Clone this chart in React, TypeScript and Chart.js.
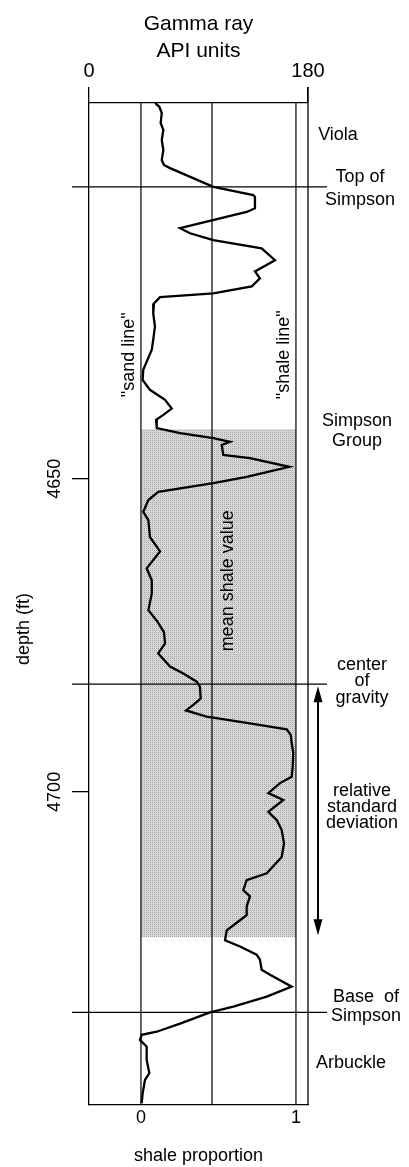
import { useEffect, useRef } from "react";
import { Chart, registerables } from "chart.js";

Chart.register(...registerables);

// ---- data ----
const depthFt = [4590.0, 4590.6, 4591.6, 4593.2, 4594.3, 4595.9, 4597.5, 4599.1, 4599.9, 4600.4, 4603.4, 4604.7, 4605.0, 4606.8, 4607.4, 4610.0, 4610.8, 4611.9, 4613.2, 4615.1, 4616.9, 4618.0, 4619.3, 4620.4, 4621.0, 4622.0, 4623.6, 4625.7, 4627.8, 4629.4, 4632.6, 4634.2, 4635.8, 4637.4, 4638.8, 4639.8, 4640.6, 4641.9, 4642.7, 4643.5, 4644.1, 4644.6, 4646.2, 4646.7, 4648.1, 4649.7, 4650.7, 4652.1, 4653.4, 4655.3, 4656.6, 4659.3, 4661.6, 4664.3, 4666.2, 4668.3, 4671.0, 4672.7, 4674.5, 4676.3, 4677.9, 4680.0, 4681.1, 4682.4, 4683.2, 4685.1, 4686.1, 4687.0, 4688.0, 4689.0, 4690.0, 4690.9, 4692.2, 4693.8, 4696.0, 4697.6, 4698.6, 4700.2, 4701.3, 4703.2, 4704.5, 4706.1, 4708.2, 4710.4, 4713.0, 4714.1, 4715.7, 4716.7, 4718.3, 4719.7, 4720.5, 4722.1, 4723.7, 4724.7, 4726.0, 4726.8, 4728.4, 4729.2, 4731.1, 4732.7, 4734.3, 4735.2, 4737.0, 4738.3, 4738.8, 4739.6, 4740.7, 4742.8, 4744.9, 4746.0, 4748.1, 4749.7];
const gammaAPI = [54.2, 57.8, 59.8, 58.9, 61.1, 59.8, 61.1, 59.8, 61.6, 66.6, 102.2, 135.0, 136.4, 136.4, 129.6, 74.8, 83.0, 102.2, 141.9, 152.9, 136.4, 140.5, 133.7, 102.2, 58.4, 53.4, 52.8, 54.2, 52.8, 51.6, 44.6, 44.1, 50.1, 62.5, 68.0, 61.1, 55.1, 55.7, 74.8, 102.2, 115.9, 109.1, 110.4, 132.3, 164.6, 129.6, 102.2, 57.0, 48.8, 44.6, 48.8, 50.1, 58.4, 47.4, 51.6, 51.6, 48.8, 55.9, 61.6, 62.5, 56.9, 66.6, 77.5, 88.5, 91.2, 91.8, 85.7, 79.7, 96.7, 129.6, 162.5, 165.8, 166.6, 167.9, 167.4, 166.6, 157.0, 147.4, 159.7, 147.4, 154.3, 158.4, 160.3, 158.4, 146.1, 129.6, 126.8, 132.3, 129.6, 129.6, 124.1, 113.2, 111.8, 124.1, 137.8, 140.5, 141.9, 148.8, 166.6, 146.1, 118.6, 99.5, 74.8, 55.7, 43.3, 41.9, 47.4, 47.4, 49.6, 46.0, 44.1, 43.3];

const depthMin = 4590;
const depthMax = 4750;
const depthTicks = [4650, 4700];
const gammaMin = 0;
const gammaMax = 180;
const gammaTicks = [0, 180];
const proportionTicks = [0, 1];

const sandLineAPI = 42.7;
const shaleLineAPI = 170.1;
const meanShaleAPI = 101.1;

const topOfSimpsonFt = 4603.4;
const centerOfGravityFt = 4682.8;
const baseOfSimpsonFt = 4735.2;
const shadeTopFt = 4642.1;
const shadeBottomFt = 4723.2;

const propMin = (gammaMin - sandLineAPI) / (shaleLineAPI - sandLineAPI);
const propMax = (gammaMax - sandLineAPI) / (shaleLineAPI - sandLineAPI);

const FAMILY = '"Liberation Sans", Arial, Helvetica, sans-serif';

function makePattern(): CanvasPattern | string {
  const c = document.createElement("canvas");
  c.width = 2;
  c.height = 2;
  const g = c.getContext("2d");
  if (!g) return "#cfcfcf";
  g.fillStyle = "#e2e2e2";
  g.fillRect(0, 0, 2, 2);
  g.fillStyle = "#a0a0a0";
  g.fillRect(0, 0, 1, 1);
  g.fillStyle = "#c8c8c8";
  g.fillRect(1, 1, 1, 1);
  const p = g.createPattern(c, "repeat");
  return p || "#cfcfcf";
}

export default function App() {
  const ref = useRef<HTMLCanvasElement>(null);

  useEffect(() => {
    if (!ref.current) return;
    const pattern = makePattern();

    const text = (ctx: CanvasRenderingContext2D, s: string, x: number, y: number, size = 18, rot = 0) => {
      ctx.save();
      ctx.translate(x, y);
      if (rot) ctx.rotate(rot);
      ctx.font = `${size}px ${FAMILY}`;
      ctx.fillStyle = "#000";
      ctx.textAlign = "center";
      ctx.textBaseline = "middle";
      ctx.fillText(s, 0, 0);
      ctx.restore();
    };

    const overlay = {
      id: "overlay",
      beforeDatasetsDraw(chart: any) {
        const { ctx, chartArea } = chart;
        const xs = chart.scales.x;
        const ys = chart.scales.y;
        ctx.save();
        const x0 = xs.getPixelForValue(sandLineAPI);
        const x1 = xs.getPixelForValue(shaleLineAPI);
        const y0 = ys.getPixelForValue(shadeTopFt);
        const y1 = ys.getPixelForValue(shadeBottomFt);
        ctx.fillStyle = pattern;
        ctx.fillRect(x0, y0, x1 - x0, y1 - y0);
        ctx.strokeStyle = "#000";
        ctx.lineWidth = 1.3;
        ctx.beginPath();
        ctx.moveTo(chartArea.right, chartArea.top - 16);
        ctx.lineTo(chartArea.right, chartArea.bottom);
        ctx.stroke();
        ctx.restore();
      },
      afterDraw(chart: any) {
        const { ctx, chartArea } = chart;
        const xs = chart.scales.x;
        const ys = chart.scales.y;
        ctx.save();
        ctx.strokeStyle = "#000";
        ctx.lineWidth = 1.3;
        // formation boundaries
        [topOfSimpsonFt, centerOfGravityFt, baseOfSimpsonFt].forEach((d) => {
          const py = ys.getPixelForValue(d);
          ctx.beginPath();
          ctx.moveTo(chartArea.left - 17, py);
          ctx.lineTo(chartArea.right + 19, py);
          ctx.stroke();
        });
        // double arrow (relative standard deviation)
        const ax = chartArea.right + 10;
        const ay0 = ys.getPixelForValue(centerOfGravityFt) + 2;
        const ay1 = ys.getPixelForValue(shadeBottomFt) - 2;
        ctx.lineWidth = 2;
        ctx.beginPath();
        ctx.moveTo(ax, ay0 + 10);
        ctx.lineTo(ax, ay1 - 10);
        ctx.stroke();
        ctx.fillStyle = "#000";
        ctx.beginPath();
        ctx.moveTo(ax, ay0);
        ctx.lineTo(ax - 4.5, ay0 + 16);
        ctx.lineTo(ax + 4.5, ay0 + 16);
        ctx.closePath();
        ctx.fill();
        ctx.beginPath();
        ctx.moveTo(ax, ay1);
        ctx.lineTo(ax - 4.5, ay1 - 16);
        ctx.lineTo(ax + 4.5, ay1 - 16);
        ctx.closePath();
        ctx.fill();
        ctx.restore();

        const R = -Math.PI / 2;
        // depth axis title
        text(ctx, "depth (ft)", 24, ys.getPixelForValue(4674), 18, R);
        // rotated in-plot labels
        text(ctx, "\"sand line\"", xs.getPixelForValue(sandLineAPI) - 12, ys.getPixelForValue(4630.2), 18, R);
        text(ctx, "\"shale line\"", xs.getPixelForValue(shaleLineAPI) - 12, ys.getPixelForValue(4630.2), 18, R);
        text(ctx, "mean shale value", xs.getPixelForValue(meanShaleAPI) + 16, ys.getPixelForValue(4666.3), 18, R);

        // right-hand labels
        const r = chartArea.right;
        text(ctx, "Viola", r + 30, 135);
        text(ctx, "Top of", r + 52, 177);
        text(ctx, "Simpson", r + 52, 200);
        text(ctx, "Simpson", r + 49, 421);
        text(ctx, "Group", r + 49, 441);
        text(ctx, "center", r + 54, 665);
        text(ctx, "of", r + 54, 681);
        text(ctx, "gravity", r + 54, 698);
        text(ctx, "relative", r + 54, 791);
        text(ctx, "standard", r + 54, 807);
        text(ctx, "deviation", r + 54, 823);
        text(ctx, "Base  of", r + 58, 997);
        text(ctx, "Simpson", r + 58, 1016);
        text(ctx, "Arbuckle", r + 43, 1063);
      },
    };

    const curve = depthFt.map((d, i) => ({ x: gammaAPI[i], y: d }));
    const vline = (v: number) => [
      { x: v, y: depthMin },
      { x: v, y: depthMax },
    ];

    const chart = new Chart(ref.current, {
      type: "scatter",
      data: {
        datasets: [
          { data: curve, showLine: true, borderColor: "#000", borderWidth: 2.3, pointRadius: 0, tension: 0, xAxisID: "x", yAxisID: "y" },
          { data: vline(sandLineAPI), showLine: true, borderColor: "#000", borderWidth: 1.2, pointRadius: 0, xAxisID: "x", yAxisID: "y" },
          { data: vline(meanShaleAPI), showLine: true, borderColor: "#000", borderWidth: 1.2, pointRadius: 0, xAxisID: "x", yAxisID: "y" },
          { data: vline(shaleLineAPI), showLine: true, borderColor: "#000", borderWidth: 1.2, pointRadius: 0, xAxisID: "x", yAxisID: "y" },
        ],
      },
      options: {
        responsive: false,
        animation: false,
        devicePixelRatio: 1,
        layout: { padding: { left: 0, right: 101, top: 0, bottom: 0 } },
        plugins: { legend: { display: false }, tooltip: { enabled: false } },
        scales: {
          x: {
            type: "linear",
            position: "top",
            min: gammaMin,
            max: gammaMax,
            afterFit: (s: any) => { s.height = 103; },
            afterBuildTicks: (s: any) => { s.ticks = gammaTicks.map((v) => ({ value: v })); },
            ticks: { font: { size: 20, family: FAMILY }, color: "#000", padding: 4, maxRotation: 0, autoSkip: false, callback: (v: any) => String(v) },
            grid: { drawOnChartArea: false, drawTicks: true, tickLength: 16, color: "#000", lineWidth: 1.3 },
            border: { display: true, color: "#000", width: 1.3 },
            title: { display: true, text: ["Gamma ray", "API units"], color: "#000", font: { size: 21, family: FAMILY, lineHeight: "27px" }, padding: { top: 11, bottom: 0 } },
          },
          x2: {
            type: "linear",
            position: "bottom",
            min: propMin,
            max: propMax,
            afterFit: (s: any) => { s.height = 62; },
            afterBuildTicks: (s: any) => { s.ticks = proportionTicks.map((v) => ({ value: v })); },
            ticks: { font: { size: 18, family: FAMILY }, color: "#000", padding: 2, maxRotation: 0, autoSkip: false, callback: (v: any) => String(v) },
            grid: { drawOnChartArea: false, drawTicks: false, color: "#000" },
            border: { display: true, color: "#000", width: 1.3 },
            title: { display: true, text: "shale proportion", color: "#000", font: { size: 18, family: FAMILY }, padding: { top: 0, bottom: 0 } },
          },
          y: {
            type: "linear",
            position: "left",
            reverse: true,
            min: depthMin,
            max: depthMax,
            afterFit: (s: any) => { s.width = 89; },
            afterBuildTicks: (s: any) => { s.ticks = depthTicks.map((v) => ({ value: v })); },
            ticks: { font: { size: 18, family: FAMILY }, color: "#000", padding: -3, minRotation: 90, maxRotation: 90, crossAlign: "center", autoSkip: false, callback: (v: any) => String(v) },
            grid: { drawOnChartArea: false, drawTicks: true, tickLength: 17, color: "#000", lineWidth: 1.3 },
            border: { display: true, color: "#000", width: 1.3 },
            title: { display: false },
          },
        },
      } as any,
      plugins: [overlay],
    });
    return () => chart.destroy();
  }, []);

  return (
    <div style={{ position: "absolute", left: 0, top: 0, width: 409, height: 1167, background: "#fff" }}>
      <canvas ref={ref} width={409} height={1167} style={{ display: "block", width: 409, height: 1167 }} />
    </div>
  );
}
